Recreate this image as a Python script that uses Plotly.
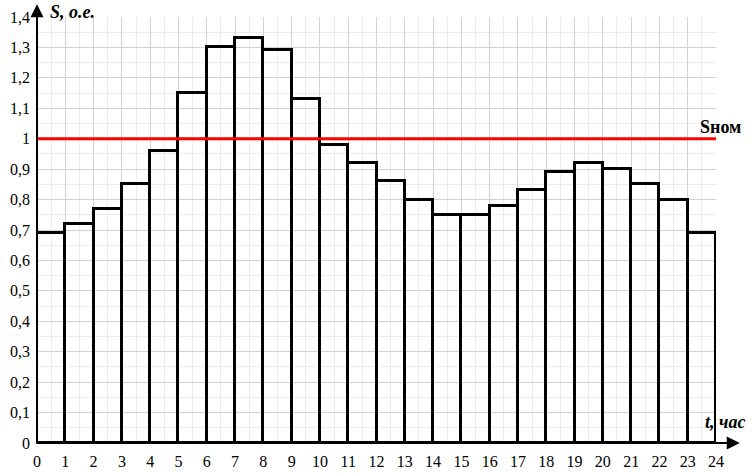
import plotly.graph_objects as go

hours = list(range(24))
load = [0.69, 0.72, 0.77, 0.85, 0.96, 1.15, 1.30, 1.33, 1.29, 1.13, 0.98, 0.92,
        0.86, 0.80, 0.75, 0.75, 0.78, 0.83, 0.89, 0.92, 0.90, 0.85, 0.80, 0.69]
s_nom = 1.0
x_ticks = list(range(25))
y_ticks = [0, 0.1, 0.2, 0.3, 0.4, 0.5, 0.6, 0.7, 0.8, 0.9, 1.0, 1.1, 1.2, 1.3, 1.4]
y_tick_text = ["0", "0,1", "0,2", "0,3", "0,4", "0,5", "0,6", "0,7", "0,8", "0,9",
               "1", "1,1", "1,2", "1,3", "1,4"]

FONT = "Liberation Serif, Times New Roman, serif"

fig = go.Figure()
fig.add_trace(go.Bar(
    x=[h + 0.5 for h in hours], y=load, width=1,
    marker=dict(color="rgba(0,0,0,0)", line=dict(color="black", width=3)),
    hoverinfo="skip", showlegend=False,
))
fig.add_trace(go.Scatter(
    x=[0, 24], y=[s_nom, s_nom], mode="lines",
    line=dict(color="#ff0000", width=3), showlegend=False, hoverinfo="skip",
))

fig.update_layout(
    width=753, height=474,
    margin=dict(l=37, r=37, t=17, b=31, autoexpand=False),
    plot_bgcolor="white", paper_bgcolor="white",
    font=dict(family=FONT, size=16, color="black"),
    bargap=0,
    xaxis=dict(
        range=[0, 24], tickvals=x_ticks, ticktext=[str(v) for v in x_ticks],
        showgrid=True, gridcolor="#d2d2d2", gridwidth=1,
        minor=dict(dtick=0.5, showgrid=True, gridcolor="#ececec", gridwidth=1),
        zeroline=False, showline=False, ticks="", ticklen=0,
        tickfont=dict(family=FONT, size=16), automargin=False,
        ticklabelstandoff=7,
    ),
    yaxis=dict(
        range=[0, 1.4], tickvals=y_ticks, ticktext=y_tick_text,
        showgrid=True, gridcolor="#d2d2d2", gridwidth=1,
        minor=dict(dtick=0.05, showgrid=True, gridcolor="#ececec", gridwidth=1),
        zeroline=False, showline=False, ticks="", ticklen=0,
        tickfont=dict(family=FONT, size=16), automargin=False,
        ticklabelstandoff=6,
    ),
)

# axis arrows
fig.add_annotation(xref="paper", yref="paper", x=1.035, y=0, ax=-705, ay=0,
                   axref="pixel", ayref="pixel", showarrow=True, arrowhead=2,
                   arrowsize=1.3, arrowwidth=2, arrowcolor="black", text="")
fig.add_annotation(xref="paper", yref="paper", x=0, y=1.03, ax=0, ay=440,
                   axref="pixel", ayref="pixel", showarrow=True, arrowhead=2,
                   arrowsize=1.3, arrowwidth=2, arrowcolor="black", text="")

fig.add_annotation(xref="paper", yref="paper", x=0.016, y=1.04, text="<b><i>S, о.е.</i></b>",
                   showarrow=False, xanchor="left", yanchor="top",
                   font=dict(family=FONT, size=18))
fig.add_annotation(xref="paper", yref="paper", x=1.045, y=0.022, text="<b><i>t, час</i></b>",
                   showarrow=False, xanchor="right", yanchor="bottom",
                   font=dict(family=FONT, size=18))
fig.add_annotation(xref="paper", yref="y", x=1.04, y=1.0, text="<b>Sном</b>",
                   showarrow=False, xanchor="right", yanchor="bottom",
                   font=dict(family=FONT, size=18))

fig.write_html("out.html", config={"displayModeBar": False},
               post_script="document.body.style.margin='0';")
